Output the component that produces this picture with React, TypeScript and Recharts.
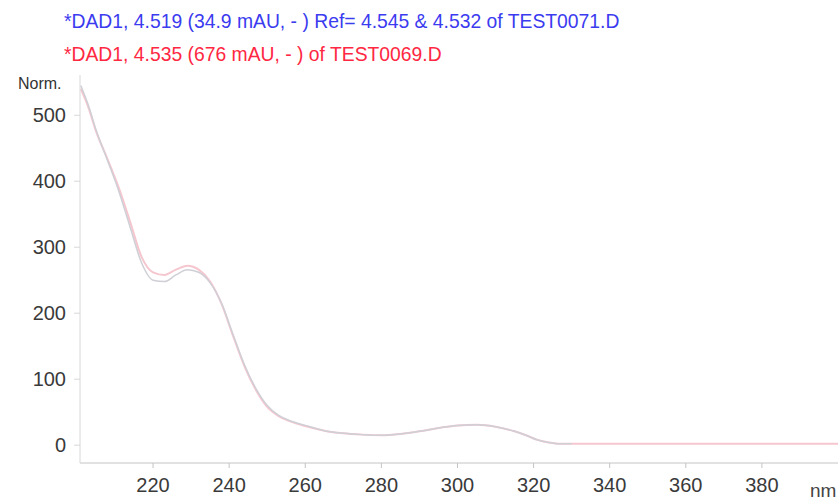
import { LineChart, Line, XAxis, YAxis } from 'recharts';

// wavelength (nm)
const wavelengths = [
  201, 203, 205, 208, 211, 214, 217, 220, 223, 226, 229, 232, 235, 238, 241, 244,
  247, 250, 253, 256, 260, 265, 270, 275, 280, 285, 290, 295, 300, 305, 310, 315,
  318, 321, 324, 327, 330, 340, 350, 360, 370, 380, 390, 400,
];

// *DAD1, 4.519 ... of TEST0071.D (normalised)
const refValues = [
  545, 515, 478, 432, 385, 330, 276, 250, 248, 258, 266, 262, 246, 215, 168, 122,
  86, 60, 45, 37, 30, 22, 18, 16, 15, 17, 21, 26, 30, 31, 28, 21,
  15, 8, 4, 2, 2, null, null, null, null, null, null, null,
];

// *DAD1, 4.535 ... of TEST0069.D
const sampleValues = [
  540, 512, 476, 434, 390, 338, 285, 262, 258, 266, 272, 266, 248, 214, 166, 120,
  84, 58, 44, 36, 29, 22, 18, 16, 15, 17, 21, 26, 30, 31, 28, 21,
  15, 8, 4, 2, 2, 2, 2, 2, 2, 2, 2, 2,
];

const xTicks = [220, 240, 260, 280, 300, 320, 340, 360, 380];
const yTicks = [0, 100, 200, 300, 400, 500];

const data = wavelengths.map((wl, i) => ({
  wl,
  ref: refValues[i],
  sample: sampleValues[i],
}));

const font = "'Liberation Sans', Arial, sans-serif";

// narrow titles a bit, the original uses a condensed face
const titleStyle = {
  position: 'absolute' as const,
  left: 64,
  fontSize: 21,
  whiteSpace: 'nowrap' as const,
  transform: 'scaleX(0.92)',
  transformOrigin: 'left center',
};

export default function App() {
  return (
    <div style={{ position: 'absolute', left: 0, top: 0, width: 838, height: 500, background: '#fff', fontFamily: font }}>
      <div style={{ ...titleStyle, top: 9, color: '#3b3bef' }}>
        *DAD1, 4.519 (34.9 mAU, - ) Ref= 4.545 &amp; 4.532 of TEST0071.D
      </div>
      <div style={{ ...titleStyle, top: 42, color: '#ff2742' }}>
        *DAD1, 4.535 (676 mAU, - ) of TEST0069.D
      </div>
      <div style={{ position: 'absolute', left: 18, top: 75, fontSize: 16, color: '#333', whiteSpace: 'nowrap' }}>
        Norm.
      </div>
      <div style={{ position: 'absolute', left: 810, top: 480, fontSize: 19, color: '#444', whiteSpace: 'nowrap' }}>
        nm
      </div>
      <LineChart width={838} height={500} data={data} margin={{ top: 75, right: 0, bottom: 0, left: 0 }}>
        <XAxis
          dataKey="wl"
          type="number"
          domain={[200.8, 400]}
          ticks={xTicks}
          height={37}
          allowDataOverflow
          stroke="#c4c4c4"
          tickSize={5}
          tickMargin={10}
          tick={{ fill: '#3a3a3a', fontSize: 20, fontFamily: font }}
        />
        <YAxis
          type="number"
          domain={[-27, 561]}
          ticks={yTicks}
          width={80}
          allowDataOverflow
          stroke="#d8d8d8"
          tickSize={6}
          tickMargin={8}
          tick={{ fill: '#3a3a3a', fontSize: 20, fontFamily: font }}
        />
        <Line
          type="monotone"
          dataKey="sample"
          stroke="#f6c6cf"
          strokeWidth={2}
          dot={false}
          isAnimationActive={false}
        />
        <Line
          type="monotone"
          dataKey="ref"
          stroke="#cfcfd6"
          strokeWidth={1.5}
          dot={false}
          connectNulls={false}
          isAnimationActive={false}
        />
      </LineChart>
    </div>
  );
}
